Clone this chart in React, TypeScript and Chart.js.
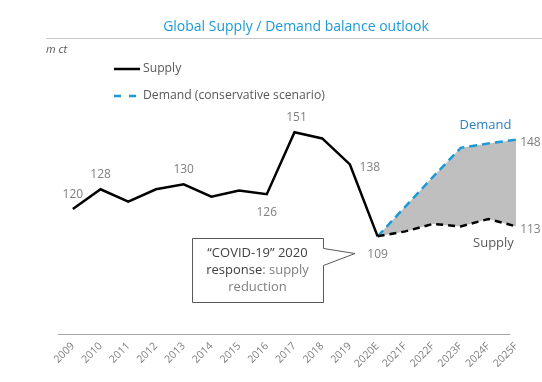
import React, { useEffect, useRef } from "react";
import { Chart, registerables } from "chart.js";

Chart.register(...registerables);

const years = ["2009", "2010", "2011", "2012", "2013", "2014", "2015", "2016", "2017", "2018", "2019", "2020E", "2021F", "2022F", "2023F", "2024F", "2025F"];
const supplyHistory = [120, 128, 123, 128, 130, 125, 127.5, 126, 151, 148.5, 138, 109, null, null, null, null, null];
const supplyForecast = [null, null, null, null, null, null, null, null, null, null, null, 109, 111, 114, 113, 116, 113];
const demandForecast = [null, null, null, null, null, null, null, null, null, null, null, 109, 121, 133, 144.7, 146.5, 148];
// data labels: [index, text, dx, dy]
const supplyLabels: [number, string, number, number][] = [
  [0, "120", 0, -14],
  [1, "128", 0, -15],
  [4, "130", 0, -15],
  [7, "126", 0, 18],
  [8, "151", 2, -15],
  [10, "138", 20, 3],
  [11, "109", 0, 18],
];
const endLabels: [string, number][] = [["148", 148], ["113", 113]];

const FONT = '"Open Sans", "Noto Sans", sans-serif';
const BLUE = "#1c9ad6";
const GREY = "#7f7f7f";
const DARK = "#404040";

const overlay = {
  id: "overlay",
  afterDatasetsDraw(chart: any) {
    const ctx = chart.ctx;
    const x = chart.scales.x;
    const y = chart.scales.y;
    ctx.save();
    // title
    ctx.fillStyle = BLUE;
    ctx.font = `14px ${FONT}`;
    ctx.textAlign = "center";
    ctx.textBaseline = "middle";
    ctx.fillText("Global Supply / Demand balance outlook", 296, 27);
    ctx.strokeStyle = "#c8c8c8";
    ctx.lineWidth = 1;
    ctx.beginPath();
    ctx.moveTo(46, 38.5);
    ctx.lineTo(542, 38.5);
    ctx.stroke();
    // unit
    ctx.fillStyle = "#595959";
    ctx.font = `italic 11px ${FONT}`;
    ctx.textAlign = "left";
    ctx.fillText("m ct", 46, 50);
    // legend
    ctx.lineWidth = 2.5;
    ctx.strokeStyle = "#000";
    ctx.beginPath();
    ctx.moveTo(114, 69);
    ctx.lineTo(140, 69);
    ctx.stroke();
    ctx.strokeStyle = BLUE;
    ctx.setLineDash([7, 8]);
    ctx.beginPath();
    ctx.moveTo(114, 96);
    ctx.lineTo(140, 96);
    ctx.stroke();
    ctx.setLineDash([]);
    ctx.fillStyle = "#595959";
    ctx.font = `12.2px ${FONT}`;
    ctx.fillText("Supply", 143, 69);
    ctx.fillText("Demand (conservative scenario)", 143, 96);
    // x axis line
    ctx.strokeStyle = "#a6a6a6";
    ctx.lineWidth = 1.2;
    ctx.beginPath();
    ctx.moveTo(x.left - 1, chart.chartArea.bottom + 0.5);
    ctx.lineTo(x.getPixelForValue(years.length - 1) - 6, chart.chartArea.bottom + 0.5);
    ctx.stroke();
    // data labels
    ctx.fillStyle = GREY;
    ctx.font = `12px ${FONT}`;
    ctx.textAlign = "center";
    for (const [i, t, dx, dy] of supplyLabels) {
      ctx.fillText(t, x.getPixelForValue(i) + dx, y.getPixelForValue(supplyHistory[i] as number) + dy);
    }
    const last = years.length - 1;
    ctx.textAlign = "left";
    for (const [t, v] of endLabels) {
      ctx.fillText(t, x.getPixelForValue(last) + 4, y.getPixelForValue(v) + 3);
    }
    // series labels
    ctx.font = `13px ${FONT}`;
    ctx.textAlign = "center";
    ctx.fillStyle = "#2a7fc0";
    ctx.fillText("Demand", x.getPixelForValue(15) - 3, y.getPixelForValue(demandForecast[15] as number) - 18);
    ctx.fillStyle = "#595959";
    ctx.fillText("Supply", x.getPixelForValue(15) + 5, y.getPixelForValue(supplyForecast[15] as number) + 24);
    // callout
    ctx.fillStyle = "#fff";
    ctx.strokeStyle = "#595959";
    ctx.lineWidth = 1;
    ctx.beginPath();
    ctx.moveTo(192.5, 238.5);
    ctx.lineTo(323.5, 238.5);
    ctx.lineTo(323.5, 248.5);
    ctx.lineTo(355, 253.5);
    ctx.lineTo(323.5, 265.5);
    ctx.lineTo(323.5, 302.5);
    ctx.lineTo(192.5, 302.5);
    ctx.closePath();
    ctx.fill();
    ctx.stroke();
    const cx = 257.5;
    ctx.font = `13px ${FONT}`;
    ctx.textAlign = "center";
    ctx.fillStyle = DARK;
    ctx.fillText("\u201CCOVID-19\u201D 2020", cx, 253);
    const a = "response";
    const b = ": supply";
    const wa = ctx.measureText(a).width;
    const wb = ctx.measureText(b).width;
    const sx = cx - (wa + wb) / 2;
    ctx.textAlign = "left";
    ctx.fillStyle = DARK;
    ctx.fillText(a, sx, 270);
    ctx.fillStyle = GREY;
    ctx.fillText(b, sx + wa, 270);
    ctx.textAlign = "center";
    ctx.fillText("reduction", cx, 287);
    ctx.restore();
  },
};

export default function App() {
  const ref = useRef<HTMLCanvasElement>(null);
  useEffect(() => {
    if (!ref.current) return;
    const chart = new Chart(ref.current, {
      type: "line",
      data: {
        labels: years,
        datasets: [
          {
            label: "Supply",
            data: supplyHistory,
            borderColor: "#000",
            borderWidth: 2.5,
            pointRadius: 0,
            fill: false,
            tension: 0,
          },
          {
            label: "Supply forecast",
            data: supplyForecast,
            borderColor: "#000",
            borderWidth: 2.5,
            borderDash: [7, 5],
            pointRadius: 0,
            fill: false,
            tension: 0,
          },
          {
            label: "Demand (conservative scenario)",
            data: demandForecast,
            borderColor: BLUE,
            borderWidth: 2.5,
            borderDash: [8, 5],
            pointRadius: 0,
            fill: "-1",
            backgroundColor: "#bfbfbf",
            tension: 0,
          },
        ],
      },
      options: {
        responsive: false,
        animation: false,
        devicePixelRatio: 1,
        layout: { padding: { left: 59, right: 12, top: 100, bottom: 0 } },
        plugins: { legend: { display: false }, tooltip: { enabled: false }, title: { display: false } },
        scales: {
          x: {
            type: "category",
            offset: true,
            grid: { display: false, drawTicks: false },
            border: { display: false },
            ticks: {
              autoSkip: false,
              minRotation: 45,
              maxRotation: 45,
              padding: 6,
              color: GREY,
              font: { family: FONT, size: 10.5 },
            },
            afterFit: (axis: any) => {
              axis.height = 48;
            },
          },
          y: {
            display: false,
            min: 69.6,
            max: 164,
          },
        },
      },
      plugins: [overlay],
    });
    return () => chart.destroy();
  }, []);
  return (
    <div style={{ position: "absolute", left: 0, top: 0, width: 542, height: 382, background: "#fff" }}>
      <canvas ref={ref} width={542} height={382} />
    </div>
  );
}
